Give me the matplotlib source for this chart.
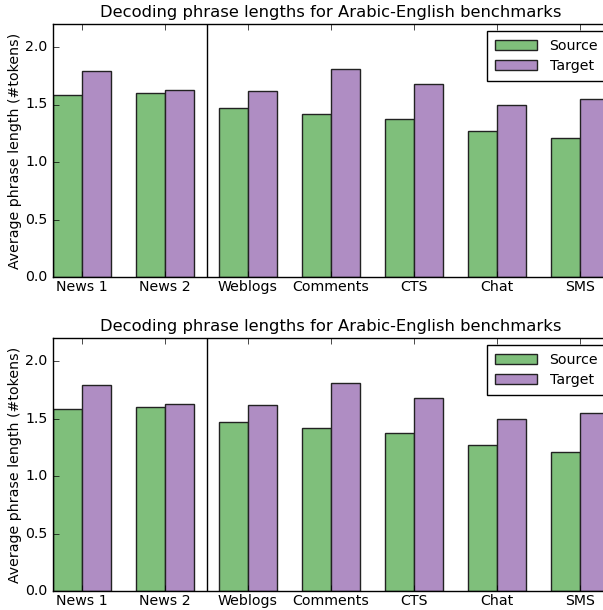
import numpy as np
import matplotlib
matplotlib.use("Agg")
import matplotlib.pyplot as plt

# datos
categorias = ['News 1', 'News 2', 'Weblogs', 'Comments', 'CTS', 'Chat', 'SMS']
source = [1.58, 1.60, 1.47, 1.42, 1.37, 1.27, 1.21]
target = [1.79, 1.63, 1.62, 1.81, 1.68, 1.50, 1.55]
titulo = 'Decoding phrase lengths for Arabic-English benchmarks'

plt.style.use('classic')
plt.rcParams['font.size'] = 10.2
plt.rcParams['font.family'] = ['DejaVu Sans']

x = np.arange(len(categorias))
width = 0.35

fig = plt.figure(figsize=(6.03, 6.10), dpi=100, facecolor='white')

# el eje se sale un poco por la derecha, como en la original
for pos in [(53/603, 1 - 277/610), (53/603, 1 - 591/610)]:
	ax = fig.add_axes([pos[0], pos[1], 556/603, 253/610])
	ax.bar(x, source, width, color='#7fbf7b', edgecolor='#222222', label='Source', align='edge')
	ax.bar(x + width, target, width, color='#af8dc3', edgecolor='#222222', label='Target', align='edge')
	ax.axvline(1.85, color='black', linewidth=1)
	ax.set_xlim(0, 6.7)
	ax.set_ylim(0, 2.2)
	ax.set_yticks([0.0, 0.5, 1.0, 1.5, 2.0])
	ax.set_xticks(x + width)
	ax.set_xticklabels(categorias)
	ax.tick_params(axis='x', pad=2)
	ax.set_ylabel('Average phrase length (#tokens)', labelpad=2)
	ax.set_title(titulo, fontsize=11.8)
	ax.legend(loc='upper right', bbox_to_anchor=(1 + 4/556, 1), fontsize=10.2,
		handlelength=3, handleheight=0.75, handletextpad=0.85,
		labelspacing=0.45, borderpad=0.55)

fig.savefig('out.png', dpi=100, facecolor='white')
